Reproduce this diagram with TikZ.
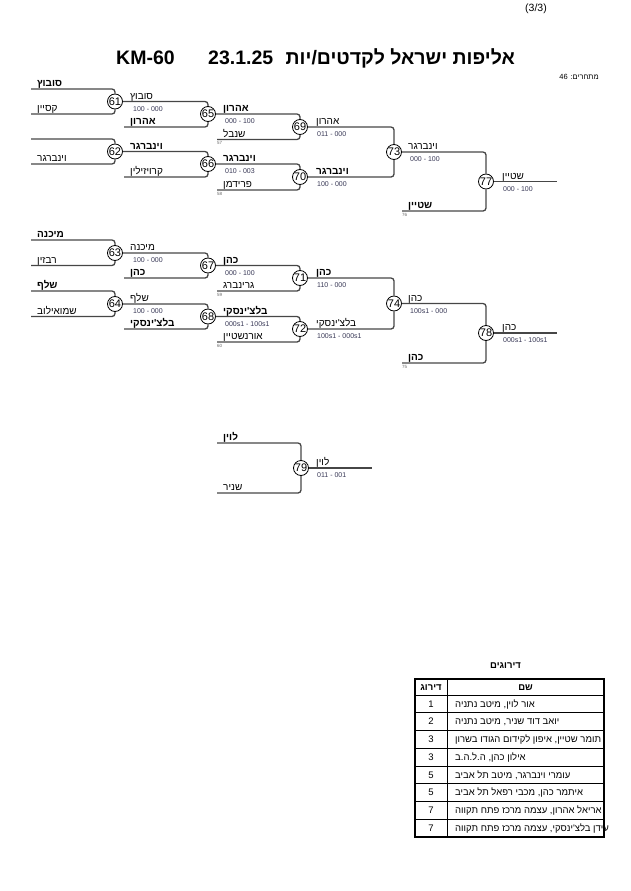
\documentclass[tikz,border=0pt]{standalone}
\usepackage{fontspec}
\setmainfont{Liberation Sans}
\newfontfamily\hebfont[Script=Hebrew]{Liberation Sans}
\TeXXeTstate=1
\newcommand{\hebt}[1]{{\hebfont\beginR #1\endR}}
\definecolor{scorecol}{RGB}{55,55,85}
\definecolor{brcol}{RGB}{70,70,70}
\tikzset{
  br/.style={draw=brcol, line width=1.3pt, rounded corners=3pt},
  mc/.style={circle, draw=black, line width=0.8pt, fill=white, minimum size=15pt, inner sep=0pt, font=\fontsize{11}{11}\selectfont},
  nm/.style={anchor=base west, inner sep=0pt, yshift=2.5pt, font=\fontsize{10}{10}\selectfont},
  nmb/.style={nm, font=\fontsize{10}{10}\selectfont\bfseries},
  sc/.style={anchor=base west, inner sep=0pt, yshift=-9.5pt, text=scorecol, font=\fontsize{7}{7}\selectfont},
  sn/.style={anchor=base west, inner sep=0pt, yshift=-5pt, text=black!60, font=\fontsize{4.5}{4.5}\selectfont},
  tb/.style={anchor=base, inner sep=0pt, yshift=-3.3pt, font=\fontsize{9.5}{9.5}\selectfont},
  tbn/.style={anchor=base west, inner sep=0pt, yshift=-3.3pt, font=\fontsize{9.5}{9.5}\selectfont},
}
\begin{document}
\begin{tikzpicture}[x=1pt,y=-1pt]
\useasboundingbox (0,0) rectangle (630,891);
% header
\node[anchor=base west, inner sep=0pt, font=\fontsize{10.5}{11}\selectfont] (pg) at (525,12) {(3/3)};
\node[anchor=base west, inner sep=0pt, font=\fontsize{19.5}{20}\selectfont\bfseries] (tkm) at (116,64) {KM-60};
\node[anchor=base west, inner sep=0pt, font=\fontsize{19.5}{20}\selectfont\bfseries] (tdate) at (208,64) {23.1.25};
\node[anchor=base east, inner sep=0pt, font=\fontsize{19.5}{20}\selectfont\bfseries] (theb) at (515,64) {\hebt{אליפות ישראל לקדטים/יות}};
\node[anchor=base east, inner sep=0pt, font=\fontsize{7.5}{8}\selectfont] (ncomp) at (599,80) {\hebt{מתחרים: \beginL 46\endL}};

% match circles
\node[mc] (m61) at (115,101.5) {61};
\node[mc] (m62) at (115,151.5) {62};
\node[mc] (m63) at (115,253) {63};
\node[mc] (m64) at (115,304) {64};
\node[mc] (m65) at (208,114) {65};
\node[mc] (m66) at (208,164) {66};
\node[mc] (m67) at (208,265.5) {67};
\node[mc] (m68) at (208,316.5) {68};
\node[mc] (m69) at (300,127) {69};
\node[mc] (m70) at (300,177) {70};
\node[mc] (m71) at (300,278) {71};
\node[mc] (m72) at (300,329) {72};
\node[mc] (m73) at (394,152) {73};
\node[mc] (m74) at (394,303.5) {74};
\node[mc] (m77) at (486,181.5) {77};
\node[mc] (m78) at (486,333) {78};
\node[mc] (m79) at (301,468) {79};

% line ends
\coordinate (a61) at (31,89);   \coordinate (b61) at (31,114);
\coordinate (a62) at (31,139);  \coordinate (b62) at (31,164);
\coordinate (a63) at (31,240);  \coordinate (b63) at (31,265.5);
\coordinate (a64) at (31,291);  \coordinate (b64) at (31,316.5);
\coordinate (b65) at (124,127); \coordinate (b66) at (124,177);
\coordinate (b67) at (124,278); \coordinate (b68) at (124,329);
\coordinate (b69) at (217,139.5); \coordinate (b70) at (217,190);
\coordinate (b71) at (217,291);   \coordinate (b72) at (217,342);
\coordinate (b77) at (402,211);   \coordinate (b78) at (402,363);
\coordinate (e77) at (557,181.5); \coordinate (e78) at (557,333);
\coordinate (a79) at (217,443);   \coordinate (b79) at (217,493);
\coordinate (e79) at (372,468);

% bracket lines
\draw[br] (a61) -| (m61); \draw[br] (b61) -| (m61);
\draw[br] (a62) -| (m62); \draw[br] (b62) -| (m62);
\draw[br] (a63) -| (m63); \draw[br] (b63) -| (m63);
\draw[br] (a64) -| (m64); \draw[br] (b64) -| (m64);
\draw[br] (m61) -| (m65); \draw[br] (b65) -| (m65);
\draw[br] (m62) -| (m66); \draw[br] (b66) -| (m66);
\draw[br] (m63) -| (m67); \draw[br] (b67) -| (m67);
\draw[br] (m64) -| (m68); \draw[br] (b68) -| (m68);
\draw[br] (m65) -| (m69); \draw[br] (b69) -| (m69);
\draw[br] (m66) -| (m70); \draw[br] (b70) -| (m70);
\draw[br] (m67) -| (m71); \draw[br] (b71) -| (m71);
\draw[br] (m68) -| (m72); \draw[br] (b72) -| (m72);
\draw[br] (m69) -| (m73); \draw[br] (m70) -| (m73);
\draw[br] (m71) -| (m74); \draw[br] (m72) -| (m74);
\draw[br] (m73) -| (m77); \draw[br] (b77) -| (m77);
\draw[br] (m74) -| (m78); \draw[br] (b78) -| (m78);
\draw[br] (m77) -- (e77);
\draw[br] (m78) -- (e78);
\draw[br] (a79) -| (m79); \draw[br] (b79) -| (m79);
\draw[br] (m79) -- (e79);

% round 1 names
\node[nmb] (n1) at (37,89) {\hebt{סובוץ}};
\node[nm] (n2) at (37,114) {\hebt{קסיין}};
\node[nm] (n3) at (37,164) {\hebt{וינברגר}};
\node[nmb] (n4) at (37,240) {\hebt{מיכנה}};
\node[nm] (n5) at (37,265.5) {\hebt{רבזין}};
\node[nmb] (n6) at (37,291) {\hebt{שלף}};
\node[nm] (n7) at (37,316.5) {\hebt{שמואילוב}};

% round 2
\node[nm] (n8) at (130,101.5) {\hebt{סובוץ}};
\node[sc] (s8) at (133,101.5) {100 - 000};
\node[nmb] (n9) at (130,127) {\hebt{אהרון}};
\node[nmb] (n10) at (130,151.5) {\hebt{וינברגר}};
\node[nm] (n11) at (130,177) {\hebt{קרויזילין}};
\node[nm] (n12) at (130,253) {\hebt{מיכנה}};
\node[sc] (s12) at (133,253) {100 - 000};
\node[nmb] (n13) at (130,278) {\hebt{כהן}};
\node[nm] (n14) at (130,304) {\hebt{שלף}};
\node[sc] (s14) at (133,304) {100 - 000};
\node[nmb] (n15) at (130,329) {\hebt{בלצ'ינסקי}};

% round 3
\node[nmb] (n16) at (223,114) {\hebt{אהרון}};
\node[sc] (s16) at (225,114) {000 - 100};
\node[nm] (n17) at (223,139.5) {\hebt{שנבל}};
\node[sn] (k57) at (217,139.5) {57};
\node[nmb] (n18) at (223,164) {\hebt{וינברגר}};
\node[sc] (s18) at (225,164) {010 - 003};
\node[nm] (n19) at (223,190) {\hebt{פרידמן}};
\node[sn] (k58) at (217,190) {58};
\node[nmb] (n20) at (223,265.5) {\hebt{כהן}};
\node[sc] (s20) at (225,265.5) {000 - 100};
\node[nm] (n21) at (223,291) {\hebt{גרינברג}};
\node[sn] (k59) at (217,291) {59};
\node[nmb] (n22) at (223,316.5) {\hebt{בלצ'ינסקי}};
\node[sc] (s22) at (225,316.5) {000s1 - 100s1};
\node[nm] (n23) at (223,342) {\hebt{אורנשטיין}};
\node[sn] (k60) at (217,342) {60};

% round 4
\node[nm] (n24) at (316,127) {\hebt{אהרון}};
\node[sc] (s24) at (317,127) {011 - 000};
\node[nmb] (n25) at (316,177) {\hebt{וינברגר}};
\node[sc] (s25) at (317,177) {100 - 000};
\node[nmb] (n26) at (316,278) {\hebt{כהן}};
\node[sc] (s26) at (317,278) {110 - 000};
\node[nm] (n27) at (316,329) {\hebt{בלצ'ינסקי}};
\node[sc] (s27) at (317,329) {100s1 - 000s1};

% round 5
\node[nm] (n28) at (408,152) {\hebt{וינברגר}};
\node[sc] (s28) at (410,152) {000 - 100};
\node[nmb] (n29) at (408,211) {\hebt{שטיין}};
\node[sn] (k76) at (402,211) {76};
\node[nm] (n30) at (408,303.5) {\hebt{כהן}};
\node[sc] (s30) at (410,303.5) {100s1 - 000};
\node[nmb] (n31) at (408,363) {\hebt{כהן}};
\node[sn] (k75) at (402,363) {75};

% finals
\node[nm] (n32) at (502,181.5) {\hebt{שטיין}};
\node[sc] (s32) at (503,181.5) {000 - 100};
\node[nm] (n33) at (502,333) {\hebt{כהן}};
\node[sc] (s33) at (503,333) {000s1 - 100s1};

% match 79
\node[nmb] (n34) at (223,443) {\hebt{לוין}};
\node[nm] (n35) at (223,493) {\hebt{שניר}};
\node[nm] (n36) at (316,468) {\hebt{לוין}};
\node[sc] (s36) at (317,468) {011 - 001};

% ranking table
\node[anchor=base, inner sep=0pt, font=\fontsize{9.5}{9.5}\selectfont\bfseries] (ttl) at (505.5,668) {\hebt{דירוגים}};
\foreach \k in {0,...,7} {
  \draw[line width=0.8pt] (415,{695+17.75*\k}) -- (604,{695+17.75*\k});
}
\draw[line width=0.8pt] (447,679) -- (447,837);
\draw[line width=1.6pt] (415,679) rectangle (604,837);
\node[tb, font=\fontsize{9.5}{9.5}\selectfont\bfseries] (h1) at (431,687) {\hebt{דירוג}};
\node[tb, font=\fontsize{9.5}{9.5}\selectfont\bfseries] (h2) at (525.5,687) {\hebt{שם}};
\node[tb] (r1) at (431,703.9) {1};
\node[tbn] (q1) at (455,703.9) {\hebt{אור לוין, מיטב נתניה}};
\node[tb] (r2) at (431,721.6) {2};
\node[tbn] (q2) at (455,721.6) {\hebt{יואב דוד שניר, מיטב נתניה}};
\node[tb] (r3) at (431,739.4) {3};
\node[tbn] (q3) at (455,739.4) {\hebt{תומר שטיין, איפון לקידום הגודו בשרון}};
\node[tb] (r4) at (431,757.1) {3};
\node[tbn] (q4) at (455,757.1) {\hebt{אילון כהן, ה.ל.ה.ב}};
\node[tb] (r5) at (431,774.9) {5};
\node[tbn] (q5) at (455,774.9) {\hebt{עומרי וינברגר, מיטב תל אביב}};
\node[tb] (r6) at (431,792.6) {5};
\node[tbn] (q6) at (455,792.6) {\hebt{איתמר כהן, מכבי רפאל תל אביב}};
\node[tb] (r7) at (431,810.4) {7};
\node[tbn] (q7) at (455,810.4) {\hebt{אריאל אהרון, עצמה מרכז פתח תקווה}};
\node[tb] (r8) at (431,828.1) {7};
\node[tbn] (q8) at (455,828.1) {\hebt{עידן בלצ'ינסקי, עצמה מרכז פתח תקווה}};
\end{tikzpicture}
\end{document}
